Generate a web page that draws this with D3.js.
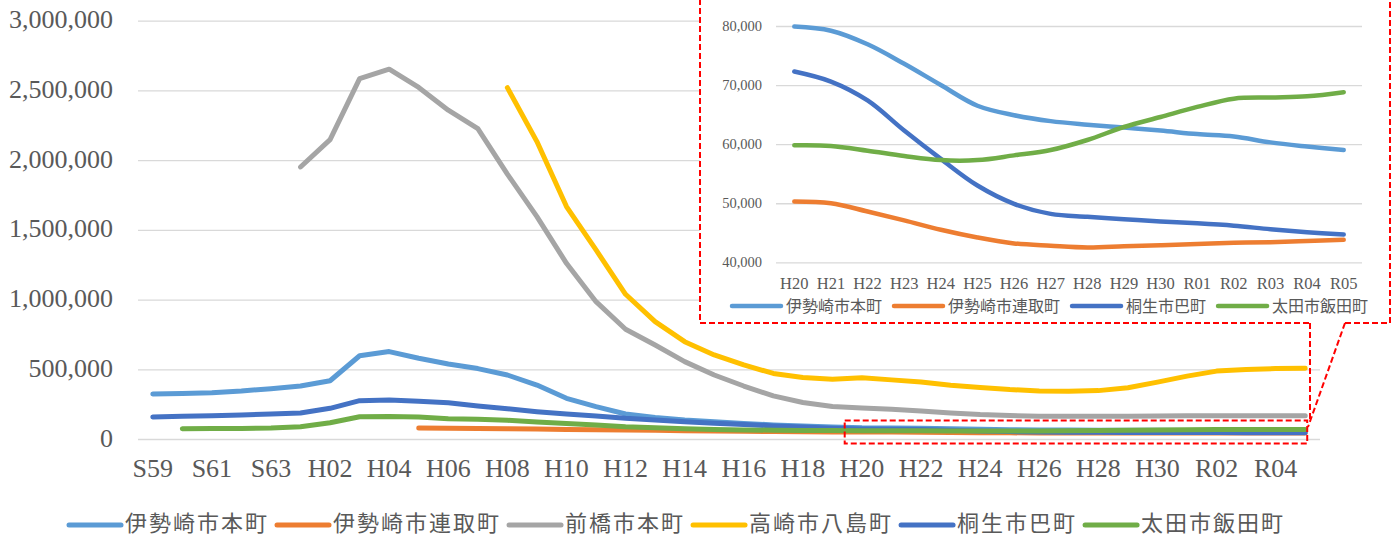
<!DOCTYPE html>
<html>
<head>
<meta charset="utf-8">
<script src="https://cdn.jsdelivr.net/npm/d3@7"></script>
<style>
  body { margin: 0; background: #fff; }
  svg { display: block; }
  .num { font-family: "Liberation Serif", "Times New Roman", serif; fill: #595959; }
  .jp { font-family: "Noto Sans CJK JP", sans-serif; fill: #595959; }
</style>
</head>
<body>
<svg id="chart" width="1400" height="537"></svg>
<script>
// Fiscal years S59 (1984) through R05 (2023)
const categories = [
  "S59","S60","S61","S62","S63",
  "H01","H02","H03","H04","H05","H06","H07","H08","H09","H10",
  "H11","H12","H13","H14","H15","H16","H17","H18","H19","H20",
  "H21","H22","H23","H24","H25","H26","H27","H28","H29","H30",
  "R01","R02","R03","R04","R05"
];
const xTickLabels = categories.filter((c, i) => i % 2 === 0);
const yTicksMain = [0, 500000, 1000000, 1500000, 2000000, 2500000, 3000000];
const yTicksInset = [40000, 50000, 60000, 70000, 80000];
const insetStart = "H20";

const seriesNames = ["伊勢崎市本町", "伊勢崎市連取町", "前橋市本町", "高崎市八島町", "桐生市巴町", "太田市飯田町"];
const seriesColors = ["#5B9BD5", "#ED7D31", "#A5A5A5", "#FFC000", "#4472C4", "#70AD47"];

const isesakiHonmachi = [
  323000, 327000, 332000, 344000, 361000,
  380000, 418000, 597000, 627000, 579000, 538000, 505000, 459000, 387000, 292000,
  232000, 179000, 155000, 136000, 124000, 112000, 101000, 93000, 86000, 79900,
  79200, 76900, 73600, 70000, 66500, 64900, 63900, 63300, 62800, 62300,
  61700, 61300, 60300, 59600, 59000
];
const isesakiRenjaku = [
  null, null, null, null, null,
  null, null, null, null, 78000, 77000, 75000, 73000, 71000, 69000,
  67000, 64000, 62000, 59000, 57000, 55000, 53500, 52000, 51000, 50300,
  50000, 48600, 47100, 45500, 44200, 43200, 42800, 42500, 42700, 42900,
  43100, 43300, 43400, 43600, 43800
];
const maebashiHonmachi = [
  null, null, null, null, null,
  1951000, 2147000, 2585000, 2652000, 2521000, 2358000, 2226000, 1900000, 1595000, 1260000,
  985000, 787000, 674000, 555000, 459000, 380000, 309000, 262000, 233000, 223000,
  213000, 200000, 187000, 175000, 168000, 164000, 163000, 163000, 164000, 165000,
  166000, 167000, 167000, 167000, 167000
];
const takasakiYashima = [
  null, null, null, null, null,
  null, null, null, null, null, null, null, 2520000, 2133000, 1667000,
  1356000, 1038000, 842000, 698000, 603000, 531000, 470000, 441000, 428000, 439000,
  424000, 408000, 386000, 370000, 355000, 345000, 343000, 347000, 367000, 408000,
  451000, 487000, 499000, 505000, 508000
];
const kiryuTomoe = [
  158000, 163000, 167000, 172000, 179000,
  187000, 220000, 275000, 280000, 270000, 260000, 237000, 217000, 196000, 179000,
  165000, 148000, 136000, 124000, 113000, 104000, 94000, 86000, 78000, 72300,
  70600, 67400, 62300, 57500, 53000, 49900, 48200, 47700, 47300, 46900,
  46600, 46200, 45600, 45100, 44700
];
const otaIida = [
  null, 74000, 75000, 76000, 79000,
  88000, 117000, 160000, 162000, 158000, 146000, 141000, 134000, 122000, 112000,
  100000, 88000, 81000, 74000, 69000, 65000, 63000, 61500, 60500, 59800,
  59700, 58900, 58000, 57300, 57300, 58100, 59000, 60700, 62900, 64600,
  66300, 67700, 67900, 68100, 68800
];

const seriesValues = [isesakiHonmachi, isesakiRenjaku, maebashiHonmachi, takasakiYashima, kiryuTomoe, otaIida];
const insetSeries = [0, 1, 4, 5];

const series = seriesNames.map((name, k) => ({
  name, color: seriesColors[k],
  points: categories.map((c, i) => ({ c, v: seriesValues[k][i] }))
}));

const svg = d3.select("#chart");
const fmt = d3.format(",");

// ---------- main chart ----------
const M = { left: 138, right: 1320, top: 20.7, bottom: 439 };
const x = d3.scaleBand().domain(categories).range([M.left, M.right]);
const cx = c => x(c) + x.bandwidth() / 2;
const y = d3.scaleLinear().domain([0, 3000000]).range([M.bottom, M.top]);

const gy = svg.append("g")
  .attr("transform", `translate(${M.left},0)`)
  .call(d3.axisLeft(y).tickValues(yTicksMain).tickSize(-(M.right - M.left)).tickPadding(25).tickFormat(fmt));
gy.select(".domain").remove();
gy.selectAll(".tick line").attr("stroke", "#d9d9d9").attr("stroke-width", 1.3);
gy.selectAll(".tick text").attr("class", "num").attr("font-size", 26).attr("dy", "0.27em");

const gx = svg.append("g")
  .attr("transform", `translate(0,${M.bottom})`)
  .call(d3.axisBottom(x).tickValues(xTickLabels).tickSize(0).tickPadding(20));
gx.select(".domain").remove();
gx.selectAll(".tick text").attr("class", "num").attr("font-size", 26);

const mainLine = d3.line()
  .defined(d => d.v != null)
  .x(d => cx(d.c))
  .y(d => y(d.v));

svg.append("g").selectAll("path")
  .data(series)
  .join("path")
  .attr("d", s => mainLine(s.points))
  .attr("fill", "none")
  .attr("stroke", s => s.color)
  .attr("stroke-width", 5)
  .attr("stroke-linecap", "round")
  .attr("stroke-linejoin", "round");

// main legend
const legend = svg.append("g");
let lx = 67;
series.forEach(s => {
  const g = legend.append("g");
  g.append("line")
    .attr("x1", lx + 2).attr("x2", lx + 54).attr("y1", 525).attr("y2", 525)
    .attr("stroke", s.color).attr("stroke-width", 5).attr("stroke-linecap", "round");
  const t = g.append("text").attr("class", "jp")
    .attr("x", lx + 58).attr("y", 520.5)
    .attr("dominant-baseline", "central")
    .attr("font-size", 22)
    .attr("letter-spacing", 2)
    .text(s.name);
  lx = lx + 58 + t.node().getComputedTextLength() + 6;
});

// ---------- callout marking the enlarged range ----------
const red = "#FF0000";
const dash = "6,3";
const zoomCats = categories.slice(categories.indexOf(insetStart));
const zx0 = x(zoomCats[0]) - 2.5;
const zx1 = cx(zoomCats[zoomCats.length - 1]) + 2;
svg.append("rect")
  .attr("x", zx0).attr("y", 420.5).attr("width", zx1 - zx0).attr("height", 23)
  .attr("fill", "none").attr("stroke", red).attr("stroke-width", 2).attr("stroke-dasharray", dash);

// ---------- inset ----------
const I = { x0: 700, x1: 1390, bottom: 323, left: 776, right: 1362, top: 26, base: 262.3 };
svg.append("rect")
  .attr("x", I.x0).attr("y", -10).attr("width", I.x1 - I.x0).attr("height", I.bottom + 10)
  .attr("fill", "#fff");

svg.append("path")
  .attr("d", `M${I.x0},-10 V${I.bottom} H1310 M1345,${I.bottom} H${I.x1} V-10`)
  .attr("fill", "none").attr("stroke", red).attr("stroke-width", 2).attr("stroke-dasharray", dash);
svg.append("path")
  .attr("d", `M1310,${I.bottom} V420.5 M1345,${I.bottom} L1308,427`)
  .attr("fill", "none").attr("stroke", red).attr("stroke-width", 2).attr("stroke-dasharray", dash);

const ix = d3.scaleBand().domain(zoomCats).range([I.left, I.right]);
const icx = c => ix(c) + ix.bandwidth() / 2;
const iy = d3.scaleLinear().domain([40000, 80000]).range([I.base, I.top]);

const igy = svg.append("g")
  .attr("transform", `translate(${I.left},0)`)
  .call(d3.axisLeft(iy).tickValues(yTicksInset).tickSize(-(I.right - I.left)).tickPadding(14).tickFormat(fmt));
igy.select(".domain").remove();
igy.selectAll(".tick line").attr("stroke", "#d9d9d9").attr("stroke-width", 1.3);
igy.selectAll(".tick text").attr("class", "num").attr("font-size", 14.5);

const igx = svg.append("g")
  .attr("transform", `translate(0,${I.base})`)
  .call(d3.axisBottom(ix).tickSize(0).tickPadding(14.5));
igx.select(".domain").remove();
igx.selectAll(".tick text").attr("class", "num").attr("font-size", 16.5);

const insetLine = d3.line()
  .defined(d => d.v != null)
  .curve(d3.curveCatmullRom.alpha(0.5))
  .x(d => icx(d.c))
  .y(d => iy(d.v));

const insetData = insetSeries.map(k => ({
  name: series[k].name, color: series[k].color,
  points: series[k].points.filter(p => zoomCats.includes(p.c))
}));

svg.append("g").selectAll("path")
  .data(insetData)
  .join("path")
  .attr("d", s => insetLine(s.points))
  .attr("fill", "none")
  .attr("stroke", s => s.color)
  .attr("stroke-width", 4.5)
  .attr("stroke-linecap", "round")
  .attr("stroke-linejoin", "round");

// inset legend
let ilx = 730;
insetData.forEach(s => {
  svg.append("line")
    .attr("x1", ilx + 2).attr("x2", ilx + 51).attr("y1", 306).attr("y2", 306)
    .attr("stroke", s.color).attr("stroke-width", 4.5).attr("stroke-linecap", "round");
  const t = svg.append("text").attr("class", "jp")
    .attr("x", ilx + 56).attr("y", 305)
    .attr("dominant-baseline", "central")
    .attr("font-size", 16)
    .text(s.name);
  ilx = ilx + 56 + t.node().getComputedTextLength() + 10;
});
</script>
</body>
</html>
